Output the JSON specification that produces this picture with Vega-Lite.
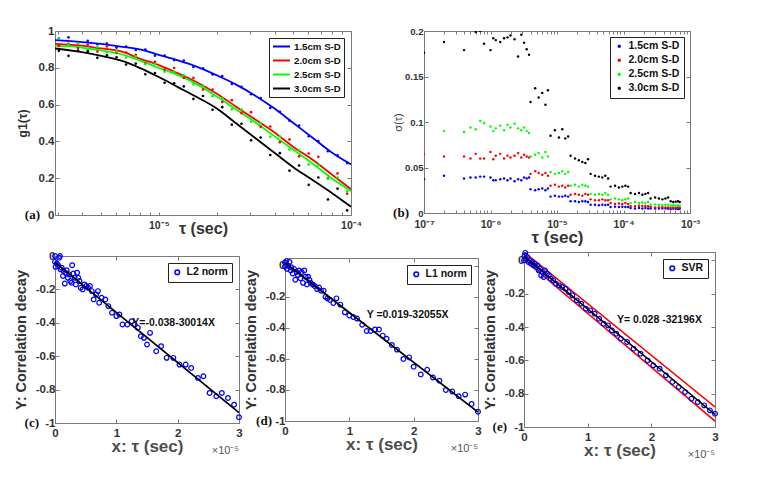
{
  "$schema": "https://vega.github.io/schema/vega-lite/v6.json",
  "padding": {"left": 12, "top": 24, "right": 5, "bottom": 5},
  "autosize": {"type": "pad"},
  "config": {
    "view": {"stroke": "#7a7a7a", "strokeWidth": 1},
    "axis": {"labelFont": "Liberation Sans", "labelFontWeight": "bold", "labelFontSize": 11.5, "labelColor": "#333", "titleFont": "Liberation Sans", "titleFontWeight": "bold", "titleColor": "#333", "domainColor": "#7a7a7a", "tickColor": "#7a7a7a", "tickSize": -4, "labelPadding": 8, "grid": false, "labelOverlap": false, "labelFlush": false},
    "axisY": {"labelPadding": 4},
    "legend": {"labelFont": "Liberation Sans", "labelFontWeight": "bold", "labelFontSize": 10, "labelColor": "#111", "strokeColor": "#222", "fillColor": "white", "padding": 4, "rowPadding": 2.5, "labelOffset": 4}
  },
  "datasets": {
    "ga": [
      {"t": 3.02e-6, "b": 0.959, "r": 0.919, "g": 0.959, "k": 0.892},
      {"t": 3.39e-6, "b": 0.965, "r": 0.930, "g": 0.925, "k": 0.865},
      {"t": 3.80e-6, "b": 0.936, "r": 0.907, "g": 0.933, "k": 0.894},
      {"t": 4.27e-6, "b": 0.947, "r": 0.926, "g": 0.896, "k": 0.889},
      {"t": 4.79e-6, "b": 0.928, "r": 0.888, "g": 0.913, "k": 0.854},
      {"t": 5.37e-6, "b": 0.932, "r": 0.916, "g": 0.884, "k": 0.868},
      {"t": 6.03e-6, "b": 0.910, "r": 0.883, "g": 0.889, "k": 0.857},
      {"t": 6.76e-6, "b": 0.915, "r": 0.883, "g": 0.855, "k": 0.818},
      {"t": 7.59e-6, "b": 0.897, "r": 0.870, "g": 0.862, "k": 0.823},
      {"t": 8.51e-6, "b": 0.899, "r": 0.825, "g": 0.820, "k": 0.765},
      {"t": 9.55e-6, "b": 0.866, "r": 0.832, "g": 0.820, "k": 0.772},
      {"t": 1.072e-5, "b": 0.866, "r": 0.790, "g": 0.778, "k": 0.719},
      {"t": 1.202e-5, "b": 0.842, "r": 0.799, "g": 0.778, "k": 0.716},
      {"t": 1.349e-5, "b": 0.839, "r": 0.745, "g": 0.760, "k": 0.699},
      {"t": 1.514e-5, "b": 0.805, "r": 0.745, "g": 0.710, "k": 0.631},
      {"t": 1.698e-5, "b": 0.797, "r": 0.682, "g": 0.703, "k": 0.647},
      {"t": 1.905e-5, "b": 0.764, "r": 0.682, "g": 0.646, "k": 0.572},
      {"t": 2.138e-5, "b": 0.755, "r": 0.614, "g": 0.634, "k": 0.586},
      {"t": 2.399e-5, "b": 0.712, "r": 0.624, "g": 0.574, "k": 0.491},
      {"t": 2.692e-5, "b": 0.696, "r": 0.554, "g": 0.574, "k": 0.496},
      {"t": 3.020e-5, "b": 0.656, "r": 0.559, "g": 0.507, "k": 0.406},
      {"t": 3.388e-5, "b": 0.636, "r": 0.479, "g": 0.498, "k": 0.421},
      {"t": 3.802e-5, "b": 0.582, "r": 0.481, "g": 0.425, "k": 0.326},
      {"t": 4.266e-5, "b": 0.561, "r": 0.396, "g": 0.426, "k": 0.336},
      {"t": 4.786e-5, "b": 0.512, "r": 0.411, "g": 0.355, "k": 0.241},
      {"t": 5.370e-5, "b": 0.486, "r": 0.319, "g": 0.353, "k": 0.269},
      {"t": 6.026e-5, "b": 0.428, "r": 0.334, "g": 0.275, "k": 0.164},
      {"t": 6.761e-5, "b": 0.402, "r": 0.316, "g": 0.271, "k": 0.204},
      {"t": 7.586e-5, "b": 0.347, "r": 0.201, "g": 0.196, "k": 0.084},
      {"t": 8.511e-5, "b": 0.324, "r": 0.226, "g": 0.204, "k": 0.143},
      {"t": 9.550e-5, "b": 0.282, "r": 0.116, "g": 0.129, "k": 0.025}
    ],
    "gaf": [
      {"t": 2.884e-6, "b": 0.95, "r": 0.93, "g": 0.92, "k": 0.905},
      {"t": 3.981e-6, "b": 0.94, "r": 0.92, "g": 0.91, "k": 0.885},
      {"t": 5.012e-6, "b": 0.93, "r": 0.905, "g": 0.895, "k": 0.865},
      {"t": 6.310e-6, "b": 0.915, "r": 0.89, "g": 0.875, "k": 0.84},
      {"t": 7.943e-6, "b": 0.90, "r": 0.85, "g": 0.84, "k": 0.80},
      {"t": 1e-5, "b": 0.87, "r": 0.815, "g": 0.80, "k": 0.75},
      {"t": 1.259e-5, "b": 0.84, "r": 0.77, "g": 0.76, "k": 0.695},
      {"t": 1.585e-5, "b": 0.805, "r": 0.72, "g": 0.71, "k": 0.64},
      {"t": 1.995e-5, "b": 0.76, "r": 0.66, "g": 0.645, "k": 0.58},
      {"t": 2.512e-5, "b": 0.71, "r": 0.59, "g": 0.575, "k": 0.50},
      {"t": 3.162e-5, "b": 0.65, "r": 0.52, "g": 0.505, "k": 0.42},
      {"t": 3.981e-5, "b": 0.58, "r": 0.45, "g": 0.43, "k": 0.34},
      {"t": 5.012e-5, "b": 0.50, "r": 0.37, "g": 0.355, "k": 0.26},
      {"t": 6.310e-5, "b": 0.42, "r": 0.30, "g": 0.28, "k": 0.19},
      {"t": 7.943e-5, "b": 0.34, "r": 0.22, "g": 0.20, "k": 0.12},
      {"t": 1e-4, "b": 0.275, "r": 0.14, "g": 0.13, "k": 0.045}
    ],
    "sb": [
      {"t": 1e-7, "b": 0.037, "r": 0.065, "g": 0.098, "k": 0.176},
      {"t": 2e-7, "b": 0.041, "r": 0.062, "g": 0.090, "k": 0.188},
      {"t": 4e-7, "b": 0.038, "r": 0.062, "g": 0.089, "k": 0.179},
      {"t": 5e-7, "b": 0.039, "r": 0.060, "g": 0.094, "k": 0.215},
      {"t": 6e-7, "b": 0.039, "r": 0.065, "g": 0.092, "k": 0.199},
      {"t": 7e-7, "b": 0.040, "r": 0.060, "g": 0.101, "k": 0.200},
      {"t": 8e-7, "b": 0.040, "r": 0.060, "g": 0.099, "k": 0.186},
      {"t": 1e-6, "b": 0.039, "r": 0.067, "g": 0.095, "k": 0.179},
      {"t": 1.1e-6, "b": 0.036, "r": 0.059, "g": 0.090, "k": 0.192},
      {"t": 1.2e-6, "b": 0.036, "r": 0.063, "g": 0.093, "k": 0.190},
      {"t": 1.4e-6, "b": 0.037, "r": 0.065, "g": 0.096, "k": 0.188},
      {"t": 1.6e-6, "b": 0.038, "r": 0.060, "g": 0.091, "k": 0.192},
      {"t": 1.8e-6, "b": 0.036, "r": 0.063, "g": 0.097, "k": 0.193},
      {"t": 2.0e-6, "b": 0.038, "r": 0.061, "g": 0.094, "k": 0.195},
      {"t": 2.3e-6, "b": 0.035, "r": 0.063, "g": 0.098, "k": 0.191},
      {"t": 2.6e-6, "b": 0.037, "r": 0.066, "g": 0.093, "k": 0.172},
      {"t": 2.9e-6, "b": 0.036, "r": 0.061, "g": 0.091, "k": 0.196},
      {"t": 3.2e-6, "b": 0.039, "r": 0.064, "g": 0.094, "k": 0.187},
      {"t": 3.5e-6, "b": 0.038, "r": 0.062, "g": 0.090, "k": 0.180},
      {"t": 3.8e-6, "b": 0.039, "r": 0.061, "g": 0.088, "k": 0.174},
      {"t": 4.0e-6, "b": 0.026, "r": 0.043, "g": 0.062, "k": 0.122},
      {"t": 4.7e-6, "b": 0.025, "r": 0.046, "g": 0.064, "k": 0.137},
      {"t": 5.3e-6, "b": 0.026, "r": 0.044, "g": 0.066, "k": 0.127},
      {"t": 6.0e-6, "b": 0.027, "r": 0.042, "g": 0.061, "k": 0.132},
      {"t": 6.7e-6, "b": 0.025, "r": 0.044, "g": 0.067, "k": 0.119},
      {"t": 7.3e-6, "b": 0.027, "r": 0.041, "g": 0.062, "k": 0.135},
      {"t": 8.0e-6, "b": 0.018, "r": 0.030, "g": 0.045, "k": 0.085},
      {"t": 9.3e-6, "b": 0.019, "r": 0.031, "g": 0.043, "k": 0.091},
      {"t": 1.07e-5, "b": 0.018, "r": 0.029, "g": 0.044, "k": 0.083},
      {"t": 1.2e-5, "b": 0.018, "r": 0.030, "g": 0.046, "k": 0.092},
      {"t": 1.33e-5, "b": 0.019, "r": 0.028, "g": 0.043, "k": 0.082},
      {"t": 1.47e-5, "b": 0.018, "r": 0.030, "g": 0.045, "k": 0.084},
      {"t": 1.6e-5, "b": 0.013, "r": 0.020, "g": 0.030, "k": 0.063},
      {"t": 1.87e-5, "b": 0.013, "r": 0.021, "g": 0.031, "k": 0.060},
      {"t": 2.13e-5, "b": 0.012, "r": 0.020, "g": 0.029, "k": 0.058},
      {"t": 2.4e-5, "b": 0.013, "r": 0.019, "g": 0.031, "k": 0.056},
      {"t": 2.67e-5, "b": 0.013, "r": 0.021, "g": 0.030, "k": 0.055},
      {"t": 2.93e-5, "b": 0.012, "r": 0.020, "g": 0.029, "k": 0.059},
      {"t": 3.2e-5, "b": 0.009, "r": 0.015, "g": 0.021, "k": 0.043},
      {"t": 3.73e-5, "b": 0.009, "r": 0.014, "g": 0.020, "k": 0.041},
      {"t": 4.27e-5, "b": 0.0085, "r": 0.014, "g": 0.021, "k": 0.040},
      {"t": 4.8e-5, "b": 0.009, "r": 0.015, "g": 0.020, "k": 0.039},
      {"t": 5.33e-5, "b": 0.0088, "r": 0.014, "g": 0.022, "k": 0.041},
      {"t": 5.87e-5, "b": 0.009, "r": 0.014, "g": 0.020, "k": 0.038},
      {"t": 6.4e-5, "b": 0.0065, "r": 0.011, "g": 0.015, "k": 0.029},
      {"t": 7.47e-5, "b": 0.007, "r": 0.010, "g": 0.016, "k": 0.030},
      {"t": 8.53e-5, "b": 0.0065, "r": 0.0105, "g": 0.015, "k": 0.028},
      {"t": 9.6e-5, "b": 0.0068, "r": 0.010, "g": 0.014, "k": 0.029},
      {"t": 1.067e-4, "b": 0.0065, "r": 0.011, "g": 0.015, "k": 0.030},
      {"t": 1.173e-4, "b": 0.0066, "r": 0.010, "g": 0.016, "k": 0.029},
      {"t": 1.28e-4, "b": 0.0055, "r": 0.0078, "g": 0.011, "k": 0.022},
      {"t": 1.49e-4, "b": 0.005, "r": 0.0075, "g": 0.012, "k": 0.021},
      {"t": 1.71e-4, "b": 0.0055, "r": 0.008, "g": 0.011, "k": 0.022},
      {"t": 1.92e-4, "b": 0.005, "r": 0.0076, "g": 0.0115, "k": 0.020},
      {"t": 2.13e-4, "b": 0.0055, "r": 0.0078, "g": 0.011, "k": 0.021},
      {"t": 2.35e-4, "b": 0.005, "r": 0.0075, "g": 0.012, "k": 0.022},
      {"t": 2.56e-4, "b": 0.005, "r": 0.0065, "g": 0.009, "k": 0.016},
      {"t": 2.99e-4, "b": 0.0048, "r": 0.006, "g": 0.0095, "k": 0.017},
      {"t": 3.41e-4, "b": 0.005, "r": 0.0062, "g": 0.009, "k": 0.016},
      {"t": 3.84e-4, "b": 0.0049, "r": 0.0063, "g": 0.0088, "k": 0.015},
      {"t": 4.27e-4, "b": 0.005, "r": 0.006, "g": 0.009, "k": 0.016},
      {"t": 4.69e-4, "b": 0.0048, "r": 0.0062, "g": 0.0092, "k": 0.017},
      {"t": 5.12e-4, "b": 0.0045, "r": 0.0058, "g": 0.008, "k": 0.013},
      {"t": 5.6e-4, "b": 0.0048, "r": 0.006, "g": 0.0085, "k": 0.012},
      {"t": 6.1e-4, "b": 0.0046, "r": 0.0057, "g": 0.008, "k": 0.0125},
      {"t": 6.6e-4, "b": 0.0045, "r": 0.006, "g": 0.0082, "k": 0.013},
      {"t": 7.0e-4, "b": 0.0047, "r": 0.0058, "g": 0.008, "k": 0.012}
    ],
    "c": [
      {"x": 0.00, "y": 0.00}, {"x": 0.00, "y": -0.035}, {"x": 0.01, "y": -0.065}, {"x": 0.03, "y": -0.045},
      {"x": 0.05, "y": -0.055}, {"x": 0.07, "y": -0.01}, {"x": 0.08, "y": 0.00}, {"x": 0.09, "y": -0.08},
      {"x": 0.11, "y": -0.07}, {"x": 0.13, "y": -0.12}, {"x": 0.14, "y": -0.09}, {"x": 0.16, "y": -0.165},
      {"x": 0.17, "y": -0.10}, {"x": 0.19, "y": -0.085}, {"x": 0.21, "y": -0.13}, {"x": 0.23, "y": -0.11},
      {"x": 0.25, "y": -0.15}, {"x": 0.27, "y": -0.16}, {"x": 0.28, "y": -0.055}, {"x": 0.30, "y": -0.105},
      {"x": 0.32, "y": -0.13}, {"x": 0.34, "y": -0.17}, {"x": 0.36, "y": -0.10}, {"x": 0.38, "y": -0.13},
      {"x": 0.40, "y": -0.15}, {"x": 0.42, "y": -0.19}, {"x": 0.45, "y": -0.20}, {"x": 0.48, "y": -0.17},
      {"x": 0.51, "y": -0.18}, {"x": 0.54, "y": -0.19}, {"x": 0.57, "y": -0.18}, {"x": 0.60, "y": -0.21},
      {"x": 0.63, "y": -0.26}, {"x": 0.67, "y": -0.23}, {"x": 0.70, "y": -0.21}, {"x": 0.72, "y": -0.28},
      {"x": 0.76, "y": -0.25}, {"x": 0.82, "y": -0.26}, {"x": 0.87, "y": -0.30}, {"x": 0.93, "y": -0.34},
      {"x": 1.00, "y": -0.36}, {"x": 1.05, "y": -0.35}, {"x": 1.10, "y": -0.41}, {"x": 1.18, "y": -0.41},
      {"x": 1.25, "y": -0.39}, {"x": 1.30, "y": -0.41}, {"x": 1.35, "y": -0.43}, {"x": 1.40, "y": -0.48},
      {"x": 1.45, "y": -0.49}, {"x": 1.50, "y": -0.53}, {"x": 1.55, "y": -0.46}, {"x": 1.65, "y": -0.57},
      {"x": 1.73, "y": -0.54}, {"x": 1.82, "y": -0.61}, {"x": 1.93, "y": -0.61}, {"x": 2.03, "y": -0.65},
      {"x": 2.13, "y": -0.65}, {"x": 2.22, "y": -0.67}, {"x": 2.33, "y": -0.73}, {"x": 2.42, "y": -0.72},
      {"x": 2.52, "y": -0.82}, {"x": 2.63, "y": -0.84}, {"x": 2.72, "y": -0.82}, {"x": 2.82, "y": -0.85},
      {"x": 2.92, "y": -0.89}, {"x": 3.00, "y": -0.965}
    ],
    "d": [
      {"x": 0.00, "y": 0.02}, {"x": 0.00, "y": -0.005}, {"x": 0.02, "y": 0.03}, {"x": 0.03, "y": -0.02},
      {"x": 0.05, "y": 0.00}, {"x": 0.07, "y": 0.025}, {"x": 0.09, "y": -0.03}, {"x": 0.10, "y": -0.01},
      {"x": 0.12, "y": -0.05}, {"x": 0.14, "y": -0.02}, {"x": 0.16, "y": -0.09}, {"x": 0.18, "y": -0.04},
      {"x": 0.20, "y": -0.06}, {"x": 0.22, "y": -0.03}, {"x": 0.24, "y": -0.08}, {"x": 0.26, "y": -0.04},
      {"x": 0.28, "y": -0.11}, {"x": 0.30, "y": -0.03}, {"x": 0.32, "y": -0.07}, {"x": 0.34, "y": -0.12},
      {"x": 0.36, "y": -0.07}, {"x": 0.38, "y": -0.09}, {"x": 0.40, "y": -0.11}, {"x": 0.43, "y": -0.12},
      {"x": 0.46, "y": -0.13}, {"x": 0.50, "y": -0.15}, {"x": 0.53, "y": -0.14}, {"x": 0.56, "y": -0.16},
      {"x": 0.60, "y": -0.16}, {"x": 0.63, "y": -0.20}, {"x": 0.66, "y": -0.21}, {"x": 0.70, "y": -0.22},
      {"x": 0.75, "y": -0.24}, {"x": 0.80, "y": -0.21}, {"x": 0.86, "y": -0.25}, {"x": 0.93, "y": -0.30},
      {"x": 1.00, "y": -0.32}, {"x": 1.06, "y": -0.33}, {"x": 1.12, "y": -0.34}, {"x": 1.20, "y": -0.38},
      {"x": 1.27, "y": -0.42}, {"x": 1.33, "y": -0.42}, {"x": 1.40, "y": -0.41}, {"x": 1.46, "y": -0.41},
      {"x": 1.52, "y": -0.45}, {"x": 1.58, "y": -0.47}, {"x": 1.66, "y": -0.51}, {"x": 1.74, "y": -0.54},
      {"x": 1.84, "y": -0.60}, {"x": 1.93, "y": -0.59}, {"x": 2.00, "y": -0.65}, {"x": 2.11, "y": -0.70},
      {"x": 2.21, "y": -0.67}, {"x": 2.30, "y": -0.72}, {"x": 2.40, "y": -0.74}, {"x": 2.50, "y": -0.80},
      {"x": 2.60, "y": -0.81}, {"x": 2.70, "y": -0.84}, {"x": 2.80, "y": -0.83}, {"x": 2.90, "y": -0.89},
      {"x": 3.00, "y": -0.94}
    ],
    "e": [
      {"x": 0.00, "y": 0.00}, {"x": 0.01, "y": 0.03}, {"x": 0.02, "y": 0.045}, {"x": 0.03, "y": 0.01},
      {"x": 0.05, "y": 0.02}, {"x": 0.07, "y": -0.01}, {"x": 0.09, "y": 0.00}, {"x": 0.11, "y": -0.02},
      {"x": 0.13, "y": -0.01}, {"x": 0.15, "y": -0.03}, {"x": 0.17, "y": -0.02}, {"x": 0.19, "y": -0.04},
      {"x": 0.21, "y": -0.03}, {"x": 0.23, "y": -0.06}, {"x": 0.25, "y": -0.05}, {"x": 0.27, "y": -0.09},
      {"x": 0.29, "y": -0.07}, {"x": 0.31, "y": -0.10}, {"x": 0.33, "y": -0.06}, {"x": 0.36, "y": -0.08},
      {"x": 0.39, "y": -0.09}, {"x": 0.42, "y": -0.11}, {"x": 0.46, "y": -0.12}, {"x": 0.50, "y": -0.14},
      {"x": 0.55, "y": -0.15}, {"x": 0.60, "y": -0.16}, {"x": 0.65, "y": -0.17}, {"x": 0.70, "y": -0.19},
      {"x": 0.76, "y": -0.21}, {"x": 0.83, "y": -0.24}, {"x": 0.90, "y": -0.26}, {"x": 0.97, "y": -0.29},
      {"x": 1.04, "y": -0.30}, {"x": 1.11, "y": -0.32}, {"x": 1.18, "y": -0.35}, {"x": 1.25, "y": -0.38},
      {"x": 1.32, "y": -0.39}, {"x": 1.38, "y": -0.42}, {"x": 1.45, "y": -0.44}, {"x": 1.52, "y": -0.47},
      {"x": 1.62, "y": -0.49}, {"x": 1.72, "y": -0.53}, {"x": 1.83, "y": -0.56}, {"x": 1.94, "y": -0.60},
      {"x": 2.03, "y": -0.63}, {"x": 2.13, "y": -0.65}, {"x": 2.23, "y": -0.69}, {"x": 2.33, "y": -0.73},
      {"x": 2.43, "y": -0.76}, {"x": 2.53, "y": -0.79}, {"x": 2.63, "y": -0.83}, {"x": 2.73, "y": -0.85},
      {"x": 2.83, "y": -0.87}, {"x": 2.92, "y": -0.90}, {"x": 3.00, "y": -0.92}
    ]
  },
  "resolve": {"scale": {"color": "independent"}, "legend": {"color": "independent"}},
  "spacing": 1,
  "vconcat": [
    {
      "hconcat": [
        {
          "width": 296, "height": 184,
          "resolve": {"axis": {"x": "independent", "y": "independent"}},
          "layer": [
            {
              "data": {"name": "gaf"},
              "transform": [{"fold": ["b", "r", "g", "k"], "as": ["s", "v"]}],
              "mark": {"type": "line", "strokeWidth": 1.8, "interpolate": "monotone", "clip": true},
              "encoding": {
                "x": {"field": "t", "type": "quantitative", "scale": {"type": "log", "domain": [2.884e-6, 1e-4], "nice": false},
                      "axis": {"title": "τ (sec)", "values": [3e-6, 4e-6, 5e-6, 6e-6, 7e-6, 8e-6, 9e-6, 1e-5, 2e-5, 3e-5, 4e-5, 5e-5, 6e-5, 7e-5, 8e-5, 9e-5, 1e-4], "tickSize": -3, "labelExpr": "abs(datum.value - 1e-5) < 1e-7 ? '10⁻⁵' : abs(datum.value - 1e-4) < 1e-6 ? '10⁻⁴' : ''", "labelFontSize": 10.5, "titleFontSize": 16, "titlePadding": -10}},
                "y": {"field": "v", "type": "quantitative", "scale": {"domain": [0, 1], "nice": false},
                      "axis": {"title": "g1(τ)", "values": [0, 0.2, 0.4, 0.6, 0.8, 1], "labelExpr": "datum.value == 0 ? '0' : datum.value == 1 ? '1' : format(datum.value, '.1f')", "labelPadding": 5, "titleFontSize": 12.5, "titlePadding": 9}},
                "color": {"field": "s", "type": "nominal", "scale": {"domain": ["b", "r", "g", "k"], "range": ["#0000ff", "#ff0000", "#00ff00", "#000000"]},
                          "legend": {"title": null, "orient": "top-right", "offset": 7, "symbolType": "M-2,0H2", "symbolSize": 72, "symbolStrokeWidth": 2, "symbolOffset": 4, "labelOffset": 7, "labelFontSize": 9.7, "rowPadding": 3, "padding": 3,
                                     "labelExpr": "datum.label == 'b' ? '1.5cm S-D' : datum.label == 'r' ? '2.0cm S-D' : datum.label == 'g' ? '2.5cm S-D' : '3.0cm S-D'"}}
              }
            },
            {
              "data": {"name": "ga"},
              "transform": [{"fold": ["b", "r", "g", "k"], "as": ["s", "v"]}],
              "mark": {"type": "point", "filled": true, "size": 7, "opacity": 1, "clip": true},
              "encoding": {
                "x": {"field": "t", "type": "quantitative", "axis": {"orient": "top", "labels": false, "title": null, "domain": false, "tickSize": -3, "values": [3e-6, 4e-6, 5e-6, 6e-6, 7e-6, 8e-6, 9e-6, 1e-5, 2e-5, 3e-5, 4e-5, 5e-5, 6e-5, 7e-5, 8e-5, 9e-5, 1e-4]}},
                "y": {"field": "v", "type": "quantitative", "axis": {"orient": "right", "labels": false, "title": null, "domain": false, "values": [0, 0.2, 0.4, 0.6, 0.8, 1]}},
                "color": {"field": "s", "type": "nominal"}
              }
            },
            {
              "data": {"values": [{"t": 2.884e-6, "v": 0, "lab": "(a)"}]},
              "mark": {"type": "text", "align": "right", "baseline": "middle", "dx": -15, "font": "Liberation Serif", "fontWeight": "bold", "fontSize": 13, "color": "#111"},
              "encoding": {"x": {"field": "t", "type": "quantitative", "axis": null}, "y": {"field": "v", "type": "quantitative", "axis": null}, "text": {"field": "lab"}}
            }
          ]
        },
        {
          "width": 266, "height": 182,
          "resolve": {"axis": {"x": "independent", "y": "independent"}},
          "layer": [
            {
              "data": {"name": "sb"},
              "transform": [{"fold": ["b", "r", "g", "k"], "as": ["s", "v"]}],
              "mark": {"type": "point", "filled": true, "size": 6, "opacity": 1, "clip": true},
              "encoding": {
                "x": {"field": "t", "type": "quantitative", "scale": {"type": "log", "domain": [1e-7, 1e-3], "nice": false},
                      "axis": {"title": "τ (sec)", "values": [1e-7, 2e-7, 3e-7, 4e-7, 5e-7, 6e-7, 7e-7, 8e-7, 9e-7, 1e-6, 2e-6, 3e-6, 4e-6, 5e-6, 6e-6, 7e-6, 8e-6, 9e-6, 1e-5, 2e-5, 3e-5, 4e-5, 5e-5, 6e-5, 7e-5, 8e-5, 9e-5, 1e-4, 2e-4, 3e-4, 4e-4, 5e-4, 6e-4, 7e-4, 8e-4, 9e-4, 1e-3], "tickSize": -3,
                               "labelExpr": "abs(log(datum.value)/LN10 - round(log(datum.value)/LN10)) < 0.01 ? '10' + ['⁻⁷','⁻⁶','⁻⁵','⁻⁴','⁻³'][round(log(datum.value)/LN10) + 7] : ''", "labelFontSize": 10.5, "labelPadding": 9, "titleFontSize": 17, "titlePadding": 0}},
                "y": {"field": "v", "type": "quantitative", "scale": {"domain": [0, 0.2], "nice": false},
                      "axis": {"title": "σ(τ)", "values": [0, 0.05, 0.1, 0.15, 0.2], "format": ".2~f", "labelFontSize": 9.5, "labelPadding": 5, "titleFontSize": 11, "titleFontWeight": "normal", "titlePadding": 1}},
                "color": {"field": "s", "type": "nominal", "scale": {"domain": ["b", "r", "g", "k"], "range": ["#0000ff", "#ff0000", "#00ff00", "#000000"]},
                          "legend": {"title": null, "orient": "top-right", "offset": 6, "symbolType": "circle", "symbolSize": 12, "labelFontSize": 10.5, "rowPadding": 3,
                                     "labelExpr": "datum.label == 'b' ? '1.5cm S-D' : datum.label == 'r' ? '2.0cm S-D' : datum.label == 'g' ? '2.5cm S-D' : '3.0cm S-D'"}}
              }
            },
            {
              "data": {"values": [{"t": 1e-7, "v": 0, "lab": "(b)"}]},
              "mark": {"type": "text", "align": "right", "baseline": "middle", "dx": -15, "font": "Liberation Serif", "fontWeight": "bold", "fontSize": 13, "color": "#111"},
              "encoding": {"x": {"field": "t", "type": "quantitative", "axis": {"orient": "top", "labels": false, "title": null, "domain": false, "tickSize": -3, "values": [1e-7, 2e-7, 3e-7, 4e-7, 5e-7, 6e-7, 7e-7, 8e-7, 9e-7, 1e-6, 2e-6, 3e-6, 4e-6, 5e-6, 6e-6, 7e-6, 8e-6, 9e-6, 1e-5, 2e-5, 3e-5, 4e-5, 5e-5, 6e-5, 7e-5, 8e-5, 9e-5, 1e-4, 2e-4, 3e-4, 4e-4, 5e-4, 6e-4, 7e-4, 8e-4, 9e-4, 1e-3]}},
                           "y": {"field": "v", "type": "quantitative", "axis": {"orient": "right", "labels": false, "title": null, "domain": false, "values": [0, 0.05, 0.1, 0.15, 0.2]}},
                           "text": {"field": "lab"}}
            }
          ]
        }
      ],
      "spacing": 73,
      "bounds": "flush",
      "resolve": {"scale": {"color": "independent"}, "legend": {"color": "independent"}}
    },
    {
      "hconcat": [
        {
          "width": 184, "height": 167,
          "resolve": {"axis": {"x": "independent", "y": "independent"}},
          "layer": [
            {
              "data": {"name": "c"},
              "mark": {"type": "point", "filled": false, "size": 22, "strokeWidth": 1.2, "opacity": 1},
              "encoding": {
                "x": {"field": "x", "type": "quantitative", "scale": {"domain": [0, 3], "nice": false},
                      "axis": {"title": "x: τ (sec)", "values": [0, 1, 2, 3], "format": "d", "titleFontSize": 17, "titleColor": "#4d4d4d", "titlePadding": 0}},
                "y": {"field": "y", "type": "quantitative", "scale": {"domain": [-1, 0], "nice": false},
                      "axis": {"title": "Y: Correlation decay", "values": [-1, -0.8, -0.6, -0.4, -0.2, 0], "labelExpr": "datum.value == 0 ? '0' : datum.value < -0.99 ? '-1' : '-' + format(-datum.value, '.1f')", "titleFontSize": 14.5, "titlePadding": 7}},
                "color": {"datum": "L2 norm", "scale": {"range": ["#0000ff"]},
                          "legend": {"title": null, "orient": "top-right", "offset": 7, "symbolType": "circle", "symbolSize": 22, "labelFontSize": 10.5}}
              }
            },
            {
              "data": {"values": [{"x": 0, "y": -0.038}, {"x": 3, "y": -0.938}]},
              "mark": {"type": "line", "color": "#000000", "strokeWidth": 1.8},
              "encoding": {"x": {"field": "x", "type": "quantitative", "axis": {"orient": "top", "labels": false, "title": null, "domain": false, "values": [0, 1, 2, 3]}},
                           "y": {"field": "y", "type": "quantitative", "axis": {"orient": "right", "labels": false, "title": null, "domain": false, "values": [-1, -0.8, -0.6, -0.4, -0.2, 0]}}}
            },
            {
              "data": {"values": [{"x": 1.26, "y": -0.40, "txt": "Y=-0.038-30014X"}]},
              "mark": {"type": "text", "align": "left", "baseline": "middle", "fontWeight": "bold", "fontSize": 10.5, "font": "Liberation Sans", "color": "#111"},
              "encoding": {"x": {"field": "x", "type": "quantitative", "axis": null}, "y": {"field": "y", "type": "quantitative", "axis": null}, "text": {"field": "txt"}}
            },
            {
              "data": {"values": [{"x": 0, "y": -1, "txt": "(c)"}]},
              "mark": {"type": "text", "align": "right", "baseline": "middle", "dx": -16, "font": "Liberation Serif", "fontWeight": "bold", "fontSize": 13, "color": "#111"},
              "encoding": {"x": {"field": "x", "type": "quantitative", "axis": null}, "y": {"field": "y", "type": "quantitative", "axis": null}, "text": {"field": "txt"}}
            },
            {
              "data": {"values": [{"x": 3, "y": -1, "txt": "×10⁻⁵"}]},
              "mark": {"type": "text", "align": "right", "baseline": "middle", "dy": 28, "fontSize": 11, "font": "Liberation Sans", "color": "#555"},
              "encoding": {"x": {"field": "x", "type": "quantitative", "axis": null}, "y": {"field": "y", "type": "quantitative", "axis": null}, "text": {"field": "txt"}}
            }
          ]
        },
        {
          "width": 193, "height": 163,
          "resolve": {"axis": {"x": "independent", "y": "independent"}},
          "layer": [
            {
              "data": {"name": "d"},
              "mark": {"type": "point", "filled": false, "size": 22, "strokeWidth": 1.2, "opacity": 1},
              "encoding": {
                "x": {"field": "x", "type": "quantitative", "scale": {"domain": [0, 3], "nice": false},
                      "axis": {"title": "x: τ (sec)", "values": [0, 1, 2, 3], "format": "d", "titleFontSize": 17, "titleColor": "#4d4d4d", "titlePadding": 0}},
                "y": {"field": "y", "type": "quantitative", "scale": {"domain": [-1, 0.05], "nice": false},
                      "axis": {"title": "Y: Correlation decay", "values": [-1, -0.8, -0.6, -0.4, -0.2, 0], "labelExpr": "datum.value == 0 ? '0' : datum.value < -0.99 ? '-1' : '-' + format(-datum.value, '.1f')", "titleFontSize": 14.5, "titlePadding": 7}},
                "color": {"datum": "L1 norm", "scale": {"range": ["#0000ff"]},
                          "legend": {"title": null, "orient": "top-right", "offset": 7, "symbolType": "circle", "symbolSize": 22, "labelFontSize": 10.5}}
              }
            },
            {
              "data": {"values": [{"x": 0, "y": 0.019}, {"x": 3, "y": -0.943}]},
              "mark": {"type": "line", "color": "#000000", "strokeWidth": 1.8},
              "encoding": {"x": {"field": "x", "type": "quantitative", "axis": {"orient": "top", "labels": false, "title": null, "domain": false, "values": [0, 1, 2, 3]}},
                           "y": {"field": "y", "type": "quantitative", "axis": {"orient": "right", "labels": false, "title": null, "domain": false, "values": [-1, -0.8, -0.6, -0.4, -0.2, 0]}}}
            },
            {
              "data": {"values": [{"x": 1.27, "y": -0.32, "txt": "Y =0.019-32055X"}]},
              "mark": {"type": "text", "align": "left", "baseline": "middle", "fontWeight": "bold", "fontSize": 10.5, "font": "Liberation Sans", "color": "#111"},
              "encoding": {"x": {"field": "x", "type": "quantitative", "axis": null}, "y": {"field": "y", "type": "quantitative", "axis": null}, "text": {"field": "txt"}}
            },
            {
              "data": {"values": [{"x": 0, "y": -1, "txt": "(d)"}]},
              "mark": {"type": "text", "align": "right", "baseline": "middle", "dx": -13, "font": "Liberation Serif", "fontWeight": "bold", "fontSize": 13, "color": "#111"},
              "encoding": {"x": {"field": "x", "type": "quantitative", "axis": null}, "y": {"field": "y", "type": "quantitative", "axis": null}, "text": {"field": "txt"}}
            },
            {
              "data": {"values": [{"x": 3, "y": -1, "txt": "×10⁻⁵"}]},
              "mark": {"type": "text", "align": "right", "baseline": "middle", "dy": 28, "fontSize": 11, "font": "Liberation Sans", "color": "#555"},
              "encoding": {"x": {"field": "x", "type": "quantitative", "axis": null}, "y": {"field": "y", "type": "quantitative", "axis": null}, "text": {"field": "txt"}}
            }
          ]
        },
        {
          "width": 191, "height": 175,
          "resolve": {"axis": {"x": "independent", "y": "independent"}},
          "layer": [
            {
              "data": {"values": [{"x": 0, "y": 0.05, "g": "u"}, {"x": 3, "y": -0.88, "g": "u"}, {"x": 0, "y": 0.005, "g": "l"}, {"x": 3, "y": -0.965, "g": "l"}]},
              "mark": {"type": "line", "color": "#ff0000", "strokeWidth": 1.6, "clip": true},
              "encoding": {"x": {"field": "x", "type": "quantitative", "scale": {"domain": [0, 3], "nice": false},
                      "axis": {"title": "x: τ (sec)", "values": [0, 1, 2, 3], "format": "d", "titleFontSize": 17, "titleColor": "#4d4d4d", "titlePadding": 0}},
                           "y": {"field": "y", "type": "quantitative", "scale": {"domain": [-1, 0.05], "nice": false},
                      "axis": {"title": "Y: Correlation decay", "values": [-1, -0.8, -0.6, -0.4, -0.2, 0], "labelExpr": "datum.value == 0 ? '0' : datum.value < -0.99 ? '-1' : '-' + format(-datum.value, '.1f')", "titleFontSize": 14.5, "titlePadding": 7}},
                           "detail": {"field": "g"}}
            },
            {
              "data": {"name": "e"},
              "mark": {"type": "point", "filled": false, "size": 22, "strokeWidth": 1.2, "opacity": 1},
              "encoding": {
                "x": {"field": "x", "type": "quantitative", "axis": null},
                "y": {"field": "y", "type": "quantitative", "axis": null},
                "color": {"datum": "SVR", "scale": {"range": ["#0000ff"]},
                          "legend": {"title": null, "orient": "top-right", "offset": 7, "symbolType": "circle", "symbolSize": 22, "labelFontSize": 10.5}}
              }
            },
            {
              "data": {"values": [{"x": 0, "y": 0.025}, {"x": 3, "y": -0.925}]},
              "mark": {"type": "line", "color": "#000000", "strokeWidth": 1.6},
              "encoding": {"x": {"field": "x", "type": "quantitative", "axis": {"orient": "top", "labels": false, "title": null, "domain": false, "values": [0, 1, 2, 3]}},
                           "y": {"field": "y", "type": "quantitative", "axis": {"orient": "right", "labels": false, "title": null, "domain": false, "values": [-1, -0.8, -0.6, -0.4, -0.2, 0]}}}
            },
            {
              "data": {"values": [{"x": 1.46, "y": -0.36, "txt": "Y= 0.028 -32196X"}]},
              "mark": {"type": "text", "align": "left", "baseline": "middle", "fontWeight": "bold", "fontSize": 10.5, "font": "Liberation Sans", "color": "#111"},
              "encoding": {"x": {"field": "x", "type": "quantitative", "axis": null}, "y": {"field": "y", "type": "quantitative", "axis": null}, "text": {"field": "txt"}}
            },
            {
              "data": {"values": [{"x": 0, "y": -1, "txt": "(e)"}]},
              "mark": {"type": "text", "align": "right", "baseline": "middle", "dx": -17, "font": "Liberation Serif", "fontWeight": "bold", "fontSize": 13, "color": "#111"},
              "encoding": {"x": {"field": "x", "type": "quantitative", "axis": null}, "y": {"field": "y", "type": "quantitative", "axis": null}, "text": {"field": "txt"}}
            },
            {
              "data": {"values": [{"x": 3, "y": -1, "txt": "×10⁻⁵"}]},
              "mark": {"type": "text", "align": "right", "baseline": "middle", "dy": 28, "fontSize": 11, "font": "Liberation Sans", "color": "#555"},
              "encoding": {"x": {"field": "x", "type": "quantitative", "axis": null}, "y": {"field": "y", "type": "quantitative", "axis": null}, "text": {"field": "txt"}}
            }
          ]
        }
      ],
      "spacing": 46,
      "bounds": "flush",
      "center": true,
      "resolve": {"scale": {"color": "independent"}, "legend": {"color": "independent"}}
    }
  ]
}
